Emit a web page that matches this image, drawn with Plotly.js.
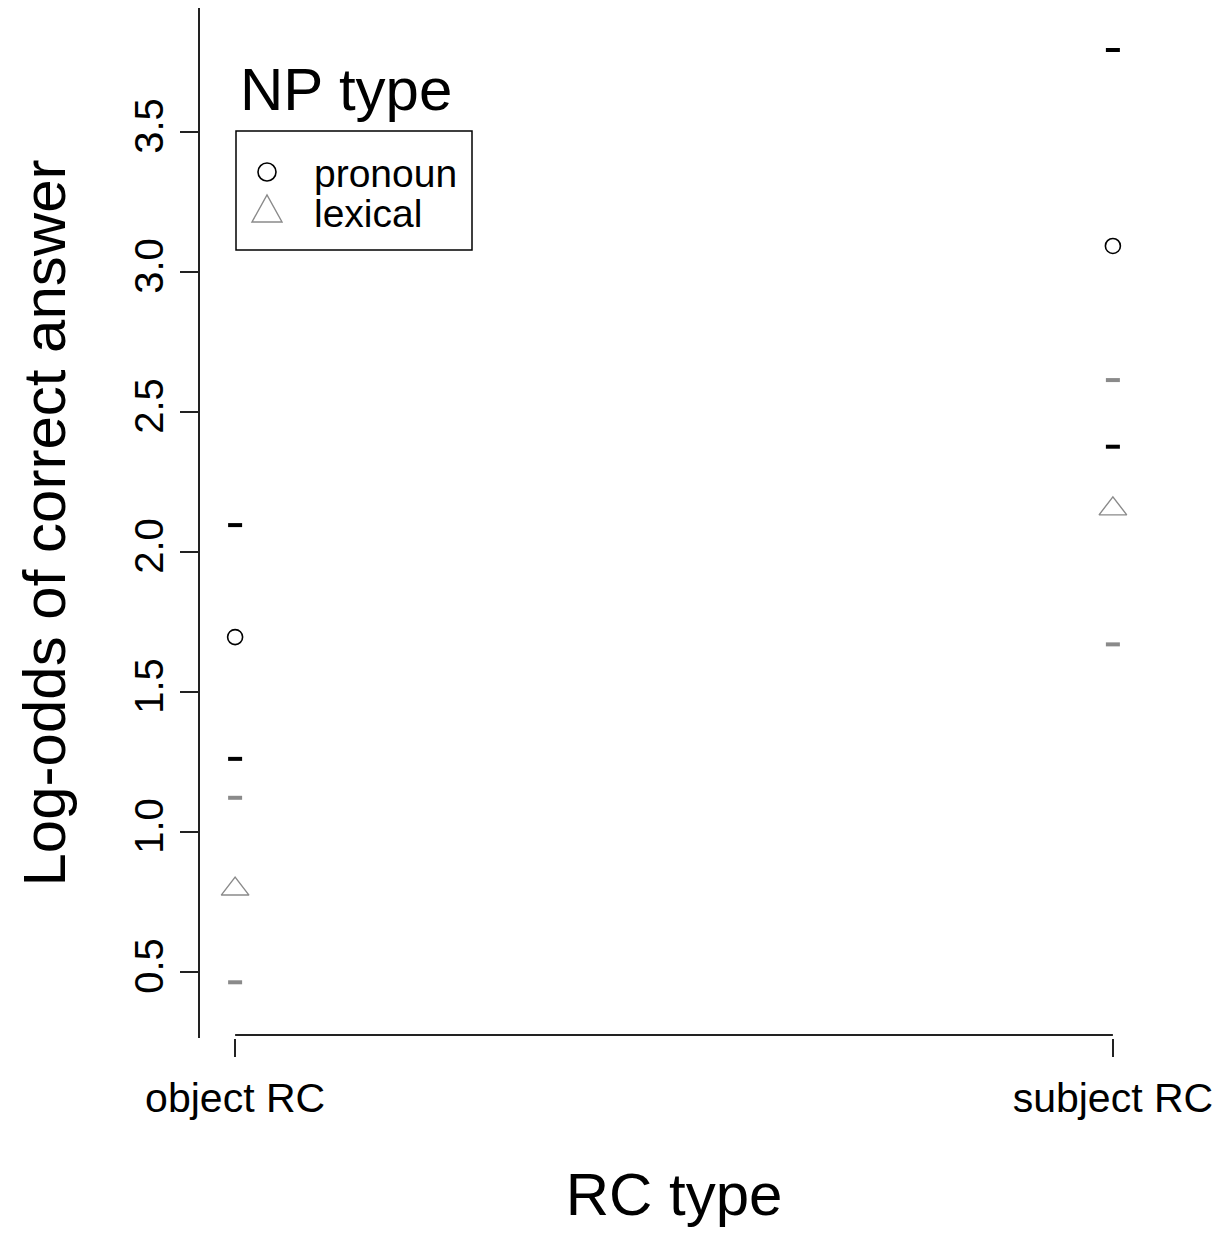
<!DOCTYPE html>
<html>
<head>
<meta charset="utf-8">
<script src="https://cdn.plot.ly/plotly-3.0.1.min.js"></script>
<style>html,body{margin:0;padding:0;background:#fff;}#chart{width:1231px;height:1234px;}</style>
</head>
<body>
<div id="chart"></div>
<script>
// ---- data ----
var categories = ["object RC", "subject RC"];
var pronounMean  = [1.696, 3.093];
var pronounUpper = [2.096, 3.793];
var pronounLower = [1.261, 2.376];
var lexicalMean  = [0.796, 2.154];
var lexicalUpper = [1.122, 2.614];
var lexicalLower = [0.463, 1.670];
var yTickVals = [0.5, 1.0, 1.5, 2.0, 2.5, 3.0, 3.5];
var yTickText = ["0.5", "1.0", "1.5", "2.0", "2.5", "3.0", "3.5"];
var legendLabels = ["pronoun", "lexical"];

// ---- layout geometry ----
var W = 1231, H = 1234;
var mL = 200, mR = 83, mT = 8, mB = 196;
var plotW = W - mL - mR, plotH = H - mT - mB;
function px(x) { return (x - mL) / plotW; }
function py(y) { return (H - mB - y) / plotH; }

var FONT = "Arial, 'Liberation Sans', Helvetica, sans-serif";
var GRAY = "#8a8a8a";

function dashTrace(vals, color) {
  return {
    type: "scatter", mode: "markers", x: categories, y: vals,
    marker: {symbol: "line-ew", size: 10, line: {color: color, width: 4}},
    showlegend: false, hoverinfo: "y"
  };
}

var traces = [
  dashTrace(pronounUpper, "#000"),
  dashTrace(pronounLower, "#000"),
  dashTrace(lexicalUpper, GRAY),
  dashTrace(lexicalLower, GRAY),
  {type: "scatter", mode: "markers", x: categories, y: pronounMean, name: legendLabels[0],
   marker: {symbol: "circle-open", size: 15, color: "#000", line: {color: "#000", width: 1.6}},
   showlegend: false},
  {type: "scatter", mode: "markers", x: categories, y: lexicalMean, name: legendLabels[1],
   marker: {symbol: "triangle-up-open", size: 24, color: GRAY, line: {color: GRAY, width: 1.4}},
   showlegend: false}
];

// legend drawn manually (R-style)
var triCx = 267, triTop = 195, triBot = 222, triHalf = 15;
var shapes = [
  // x axis line spanning the categories
  {type: "line", xref: "x", yref: "paper", x0: categories[0], x1: categories[1], y0: py(1035), y1: py(1035),
   line: {color: "#222", width: 2}},
  // legend box
  {type: "rect", xref: "paper", yref: "paper", x0: px(236), x1: px(472), y0: py(131), y1: py(250),
   line: {color: "#000", width: 1.5}, fillcolor: "rgba(0,0,0,0)"},
  // legend circle
  {type: "circle", xref: "paper", yref: "paper", x0: px(258), x1: px(276), y0: py(163), y1: py(181),
   line: {color: "#000", width: 1.6}},
  // legend triangle
  {type: "path", xref: "paper", yref: "paper",
   path: "M" + px(triCx - triHalf) + "," + py(triBot) + " L" + px(triCx + triHalf) + "," + py(triBot) +
         " L" + px(triCx) + "," + py(triTop) + " Z",
   line: {color: GRAY, width: 1.4}}
];

var annotations = [
  {xref: "paper", yref: "paper", x: px(238), y: py(89), xanchor: "left", yanchor: "middle",
   text: "NP type", showarrow: false, font: {family: FONT, size: 60, color: "#000"}},
  {xref: "paper", yref: "paper", x: px(312), y: py(174), xanchor: "left", yanchor: "middle",
   text: legendLabels[0], showarrow: false, font: {family: FONT, size: 39, color: "#000"}},
  {xref: "paper", yref: "paper", x: px(312), y: py(214), xanchor: "left", yanchor: "middle",
   text: legendLabels[1], showarrow: false, font: {family: FONT, size: 39, color: "#000"}}
];

var layout = {
  width: W, height: H,
  margin: {l: mL, r: mR, t: mT, b: mB, pad: 0},
  paper_bgcolor: "#fff", plot_bgcolor: "#fff",
  showlegend: false,
  font: {family: FONT, color: "#000"},
  xaxis: {
    type: "category", categoryorder: "array", categoryarray: categories,
    range: [-0.04, 1.04], showgrid: false, zeroline: false, showline: false,
    ticks: "outside", ticklen: 18, tickwidth: 2, tickcolor: "#222",
    tickfont: {family: FONT, size: 41, color: "#000"}, ticklabelstandoff: 6,
    title: {text: "RC type", font: {family: FONT, size: 60, color: "#000"}, standoff: 52},
    automargin: false, fixedrange: true
  },
  yaxis: {
    range: [0.264, 3.943], showgrid: false, zeroline: false,
    showline: true, linecolor: "#222", linewidth: 2,
    ticks: "outside", ticklen: 18, tickwidth: 2, tickcolor: "#222",
    tickmode: "array", tickvals: yTickVals, ticktext: yTickText, tickangle: -90,
    tickfont: {family: FONT, size: 40, color: "#000"}, ticklabelstandoff: 1,
    title: {text: "Log-odds of correct answer", font: {family: FONT, size: 60, color: "#000"}, standoff: 42},
    automargin: false, fixedrange: true
  },
  shapes: shapes,
  annotations: annotations
};

Plotly.newPlot("chart", traces, layout, {displayModeBar: false, staticPlot: true});
</script>
</body>
</html>
